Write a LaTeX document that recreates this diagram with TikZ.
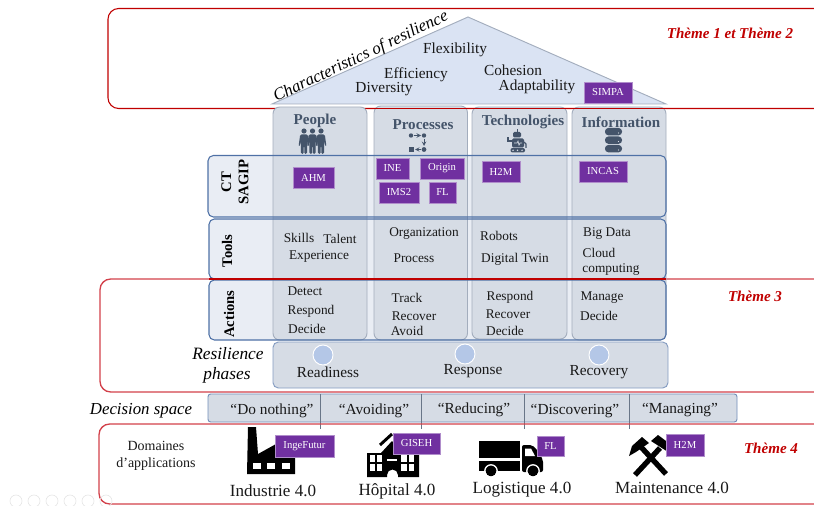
\documentclass[tikz,border=0pt]{standalone}
\usepackage{fontspec}
\setmainfont{Liberation Serif}
\usetikzlibrary{calc}
\definecolor{redline}{HTML}{C00000}
\definecolor{redsoft}{HTML}{D2404A}
\definecolor{bandfill}{HTML}{E9EDF4}
\definecolor{colfill}{HTML}{D6DCE5}
\definecolor{bandline}{HTML}{4F71A6}
\definecolor{colline}{HTML}{A3ADBD}
\definecolor{slate}{HTML}{44546A}
\definecolor{roof}{HTML}{DAE3F3}
\definecolor{purp}{HTML}{7030A0}
\definecolor{circ}{HTML}{B4C7E7}
\tikzset{
 px/.style={minimum width=0pt,inner sep=0pt,outer sep=0pt},
 lab/.style={px,font=\fontsize{10}{12}\selectfont,text=black!90},
 big/.style={px,font=\fontsize{11.5}{13}\selectfont,text=black!90},
 midtext/.style={px,font=\fontsize{11.5}{13}\selectfont,text=black!90},
 apptext/.style={px,font=\fontsize{12.8}{15}\selectfont,text=black!90},
 headtext/.style={px,font=\fontsize{11.3}{13}\selectfont\bfseries,text=slate},
 sidetext/.style={px,font=\fontsize{11}{13}\selectfont\bfseries,rotate=90,align=center},
 ital/.style={px,font=\fontsize{13}{15}\selectfont\itshape},
 themetext/.style={px,font=\fontsize{11.3}{13}\selectfont\bfseries\itshape,text=redline},
 tagnode/.style={px,fill=purp,draw=purp!55!white,line width=0.5pt,text=white,font=\fontsize{8}{10}\selectfont},
 bandbox/.style={rounded corners=4pt,fill=bandfill},
 bandedge/.style={rounded corners=4pt,draw=bandline,line width=0.8pt},
 colbox/.style={rounded corners=5pt,fill=colfill,draw=colline,line width=0.7pt},
 slatefill/.style={fill=slate,draw=none},
}
\newcommand{\tagbox}[6]{\node[tagnode,minimum width=#3*0.75pt,minimum height=#4*0.75pt,anchor=north west] (#5) at (#1,#2) {#6};}
\begin{document}
\begin{tikzpicture}[x=0.75pt,y=-0.75pt]
\useasboundingbox (0,0) rectangle (814,506);
% theme frames
\draw[redline,line width=0.8pt,rounded corners=8pt] (814,8.5) -- (108,8.5) -- (108,108.5) -- (814,108.5);
\draw[redsoft,line width=1pt,rounded corners=8pt] (814,279) -- (100,279) -- (100,392) -- (814,392);
% bands
\fill[bandbox] (208,155.5) rectangle (666,217);
\fill[bandbox] (209,219) rectangle (666,279);
\fill[bandbox] (209,280) rectangle (666,340);
% columns
\draw[colbox] (273,107) rectangle (367,340);
\draw[colbox] (374,106) rectangle (467.5,340);
\draw[colbox] (472,107) rectangle (567,339);
\draw[colbox] (572,107) rectangle (666,340);
\draw[redline,line width=0.8pt] (374,108.5) -- (814,108.5);
\draw[bandedge] (208,155.5) rectangle (666,217);
\draw[bandedge] (209,219) rectangle (666,279);
\draw[bandedge] (209,280) rectangle (666,340);
\draw[redline,line width=0.8pt] (209,279) -- (666,279);
% roof
\draw[fill=roof,draw=colline,line width=0.7pt] (272,104) -- (468,17) -- (666,104) -- cycle;
\node[px,rotate=25.5,font=\fontsize{12.7}{15}\selectfont\itshape] (charac) at (361,57) {Characteristics of resilience};
\node[big] (flex) at (455,50) {Flexibility};
\node[big] (eff) at (416,75) {Efficiency};
\node[big] (div) at (384,89) {Diversity};
\node[big] (coh) at (513,70) {Cohesion};
\node[big] (ada) at (537,87) {Adaptability};
\tagbox{584}{82}{48}{21}{simpa}{SIMPA}
% column headers
\node[headtext] (people) at (315,121) {People};
\node[headtext] (processes) at (423,124.5) {Processes};
\node[headtext] (techno) at (523,122) {Technologies};
\node[headtext] (info) at (621,122) {Information};
% people icon
\foreach \c in {304,312.5,321}{
 \fill[slatefill] (\c,131) circle (2.6);
 \fill[slatefill,rounded corners=1pt] (\c-3.8,134.5) -- (\c+3.8,134.5) -- (\c+5.4,146) -- (\c+4.2,146) -- (\c+3.2,141) -- (\c+3,154) -- (\c+0.4,154) -- (\c+0.4,146) -- (\c-0.4,146) -- (\c-0.4,154) -- (\c-3,154) -- (\c-3.2,141) -- (\c-4.2,146) -- (\c-5.4,146) -- cycle;
}
% processes icon
\fill[slatefill] (411,135.5) circle (2.2);
\fill[slatefill] (424,135.5) circle (2.2);
\fill[slatefill] (424,149.5) circle (2.4);
\fill[slatefill] (408.5,147.2) rectangle (413.5,152);
\draw[slate,line width=0.5pt,-stealth] (414,135.5) -- (421,135.5);
\draw[slate,line width=0.5pt,-stealth] (424,139) -- (424,146);
\draw[slate,line width=0.5pt,-stealth] (421,149.5) -- (415,149.5);
% robot icon
\draw[slate,line width=0.5pt] (517,129.5) -- (517,132);
\fill[slatefill,rounded corners=1pt] (513,132) rectangle (521,137.5);
\fill[slatefill,rounded corners=1pt] (512,138.5) rectangle (524,147.5);
\draw[colfill,line width=0.5pt] (514,143) -- (517,143) -- (518,141) -- (519,145) -- (520,143) -- (522,143);
\draw[slate,line width=1pt] (512,141) -- (508,141) -- (508,137);
\draw[slate,line width=1pt] (524,142) -- (526,144) -- (526,148);
\fill[slatefill,rounded corners=1.5pt] (510.5,148) rectangle (525,152.5);
\foreach \c in {513,517.5,522}{\fill[colfill] (\c,150.3) circle (0.8);}
% database icon
\foreach \t in {128,136.5,145}{
 \fill[slatefill,rounded corners=2.5pt] (605,\t) rectangle (622,\t+7.3);
 \fill[colfill] (618.5,\t+5) circle (0.6);
}
% CT SAGIP tags
\tagbox{293}{167}{41}{21}{ahm}{AHM}
\tagbox{376}{158}{33}{21}{ine}{INE}
\tagbox{420}{158}{44}{21}{origin}{Origin}
\tagbox{379}{182}{40}{21}{ims}{IMS2}
\tagbox{429}{182}{27}{21}{fl}{FL}
\tagbox{482}{161}{38}{21}{hhm}{H2M}
\tagbox{579}{161}{48}{21}{incas}{INCAS}
% side labels
\node[sidetext] (ct) at (235,182) {CT\\SAGIP};
\node[sidetext] (tools) at (227,251) {Tools};
\node[sidetext] (actions) at (229,314) {Actions};
% tools text
\node[lab] (t1) at (299,238) {Skills};
\node[lab] (t2) at (340,239) {Talent};
\node[lab] (t3) at (319,257) {Experience};
\node[lab] (t4) at (424,234) {Organization};
\node[lab] (t5) at (414,258) {Process};
\node[lab] (t6) at (499,236) {Robots};
\node[lab] (t7) at (515,259) {Digital Twin};
\node[lab] (t8) at (607,234) {Big Data};
\node[lab] (t9) at (599,253) {Cloud};
\node[lab] (t10) at (611,270) {computing};
% actions text
\node[lab] (a1) at (305,291) {Detect};
\node[lab] (a2) at (311,311) {Respond};
\node[lab] (a3) at (307,329) {Decide};
\node[lab] (a4) at (407,298) {Track};
\node[lab] (a5) at (414,316.5) {Recover};
\node[lab] (a6) at (407,330.5) {Avoid};
\node[lab] (a7) at (510,297) {Respond};
\node[lab] (a8) at (508,314) {Recover};
\node[lab] (a9) at (505,331) {Decide};
\node[lab] (a10) at (602,298) {Manage};
\node[lab] (a11) at (599,316) {Decide};
% phases
\draw[rounded corners=4pt,fill=colfill,draw=bandline!70!white,line width=0.7pt] (273,342) rectangle (668,388);
\foreach \c/\d in {323/355,465/354,599/355}{
 \draw[fill=circ,draw=white,line width=0.7pt] (\c,\d) circle (10);
}
\node[ital] (res1) at (228,354) {Resilience};
\node[ital] (res2) at (227,375) {phases};
\node[midtext] (p1) at (328,372) {Readiness};
\node[midtext] (p2) at (473,371) {Response};
\node[midtext] (p3) at (599,372) {Recovery};
% decision space
\node[px,font=\fontsize{12.6}{15}\selectfont\itshape] (dec) at (141,411) {Decision space};
\draw[rounded corners=2pt,fill=colfill,draw=bandline!80!white,line width=0.7pt] (208,394) rectangle (737,422);
\foreach \c in {320,421,524.5,629.5}{\draw[slate!80!white,line width=0.5pt] (\c,394) -- (\c,429);}
\node[midtext] (d1) at (272,411) {“Do nothing”};
\node[midtext] (d2) at (374,411) {“Avoiding”};
\node[midtext] (d3) at (474,410) {“Reducing”};
\node[midtext] (d4) at (575,411) {“Discovering”};
\node[midtext] (d5) at (680,410) {“Managing”};
% applications frame
\draw[redsoft,line width=1pt,rounded corners=8pt] (814,424) -- (99,424) -- (99,504) -- (814,504);
\node[lab,font=\fontsize{10.5}{12}\selectfont] (dom1) at (156,446) {Domaines};
\node[lab,font=\fontsize{10.5}{12}\selectfont] (dom2) at (156,464) {d’applications};
% factory
\fill[black] (247,474) -- (248,427) -- (256,427) -- (258,454) -- (276,444) -- (295,444) -- (295,474) -- cycle;
\foreach \c in {253,267,282}{\fill[white] (\c,463) rectangle (\c+8,469);}
% hospital
\fill[black] (367,453) -- (381,453) -- (392,441) -- (403,453) -- (419,453) -- (419,477) -- (398,477) -- (398,475) arc (0:-180:5.5) -- (387,477) -- (367,477) -- cycle;
\draw[black,line width=2.2pt] (380,445) -- (392,434);
\foreach \c in {369.5,376.5,401,408.5}{\foreach \d in {455,464}{\fill[white] (\c,\d) rectangle +(5.5,6.5);}}
\fill[white] (387,458.5) rectangle (397,460.5);
% truck
\fill[black] (479,441) rectangle (520,458);
\fill[black] (479,461) rectangle (520,471);
\fill[black,rounded corners=1.5pt] (522,445) -- (532,445) -- (538,451) -- (543,460) -- (543,472) -- (522,472) -- cycle;
\fill[white] (525,448.5) -- (531,448.5) -- (535,456) -- (525,456) -- cycle;
\foreach \c in {491,533}{\fill[black] (\c,471) circle (5.5); \draw[white,line width=1pt] (\c,471) circle (6.2);}
% hammers
\draw[black,line width=4pt] (666,474) -- (641,447);
\draw[black,line width=4pt] (635,475) -- (660,448);
\fill[black] (629,456) -- (632,446) -- (642,437) -- (649,443) -- (636,452) -- cycle;
\fill[black] (651,441) -- (658,435) -- (670,444) -- (668,452) -- cycle;
\tagbox{275}{435}{59}{22}{inge}{IngeFutur}
\tagbox{393}{433}{47}{21}{giseh}{GISEH}
\tagbox{537}{436}{27}{20}{fltwo}{FL}
\tagbox{666}{434}{38}{22}{hhmtwo}{H2M}
\node[apptext] (i1) at (273,491) {Industrie 4.0};
\node[apptext] (i2) at (397,491) {Hôpital 4.0};
\node[apptext] (i3) at (522,490) {Logistique 4.0};
\node[apptext] (i4) at (672,488) {Maintenance 4.0};
% themes
\node[themetext] (th12) at (730,33) {Thème 1 et Thème 2};
\node[themetext] (th3) at (755,296) {Thème 3};
\node[themetext] (th4) at (771,448) {Thème 4};
% faint viewer controls
\foreach \c in {16,34,52,70,88,106}{\draw[black!10,line width=0.5pt] (\c,501) circle (6);}
\end{tikzpicture}
\end{document}
